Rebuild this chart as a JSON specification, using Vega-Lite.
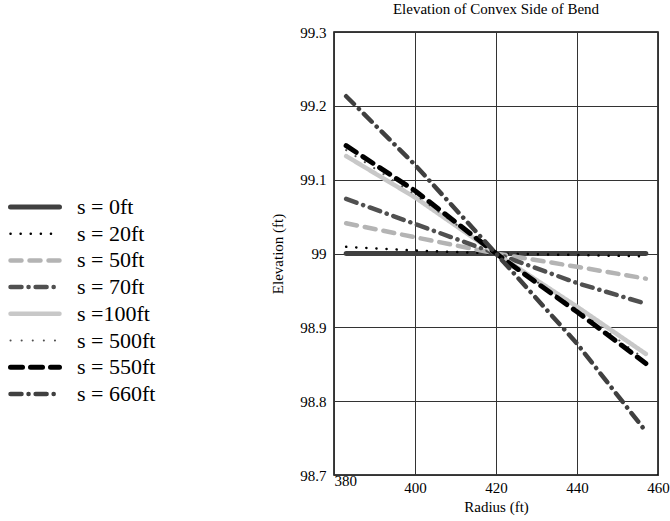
{
  "$schema": "https://vega.github.io/schema/vega-lite/v6.json",
  "autosize": {"type": "none"},
  "padding": {"left": 334, "top": 32, "right": 12, "bottom": 46},
  "width": 324,
  "height": 443,
  "background": "white",
  "title": {"text": "Elevation of Convex Side of Bend", "font": "Liberation Serif", "fontSize": 15, "fontWeight": "normal", "color": "black", "offset": 8},
  "config": {
    "view": {"stroke": "black", "strokeWidth": 1.5},
    "axis": {"labelFont": "Liberation Serif", "titleFont": "Liberation Serif", "labelFontSize": 15, "titleFontSize": 15, "titleFontWeight": "normal", "labelColor": "black", "titleColor": "black", "gridColor": "#333333", "gridOpacity": 1, "gridWidth": 1, "domain": false, "ticks": false}
  },
  "data": {"values": [
    {"r": 383, "z": 99.0, "s": "s = 0ft"}, {"r": 400, "z": 99.0, "s": "s = 0ft"}, {"r": 420, "z": 99.0, "s": "s = 0ft"}, {"r": 440, "z": 99.0, "s": "s = 0ft"}, {"r": 457, "z": 99.0, "s": "s = 0ft"},
    {"r": 383, "z": 99.009, "s": "s = 20ft"}, {"r": 400, "z": 99.004, "s": "s = 20ft"}, {"r": 420, "z": 99.0, "s": "s = 20ft"}, {"r": 440, "z": 98.998, "s": "s = 20ft"}, {"r": 457, "z": 98.996, "s": "s = 20ft"},
    {"r": 383, "z": 99.041, "s": "s = 50ft"}, {"r": 400, "z": 99.022, "s": "s = 50ft"}, {"r": 420, "z": 99.0, "s": "s = 50ft"}, {"r": 440, "z": 98.982, "s": "s = 50ft"}, {"r": 457, "z": 98.966, "s": "s = 50ft"},
    {"r": 383, "z": 99.074, "s": "s = 70ft"}, {"r": 400, "z": 99.04, "s": "s = 70ft"}, {"r": 420, "z": 99.0, "s": "s = 70ft"}, {"r": 440, "z": 98.96, "s": "s = 70ft"}, {"r": 457, "z": 98.932, "s": "s = 70ft"},
    {"r": 383, "z": 99.132, "s": "s =100ft"}, {"r": 400, "z": 99.076, "s": "s =100ft"}, {"r": 420, "z": 99.0, "s": "s =100ft"}, {"r": 440, "z": 98.928, "s": "s =100ft"}, {"r": 457, "z": 98.864, "s": "s =100ft"},
    {"r": 383, "z": 99.14, "s": "s = 500ft"}, {"r": 400, "z": 99.08, "s": "s = 500ft"}, {"r": 420, "z": 99.0, "s": "s = 500ft"}, {"r": 440, "z": 98.924, "s": "s = 500ft"}, {"r": 457, "z": 98.856, "s": "s = 500ft"},
    {"r": 383, "z": 99.146, "s": "s = 550ft"}, {"r": 400, "z": 99.085, "s": "s = 550ft"}, {"r": 420, "z": 99.0, "s": "s = 550ft"}, {"r": 440, "z": 98.921, "s": "s = 550ft"}, {"r": 457, "z": 98.851, "s": "s = 550ft"},
    {"r": 383, "z": 99.213, "s": "s = 660ft"}, {"r": 400, "z": 99.12, "s": "s = 660ft"}, {"r": 420, "z": 99.0, "s": "s = 660ft"}, {"r": 440, "z": 98.878, "s": "s = 660ft"}, {"r": 457, "z": 98.759, "s": "s = 660ft"}
  ]},
  "mark": {"type": "line", "strokeCap": "round", "strokeJoin": "round"},
  "encoding": {
    "x": {"field": "r", "type": "quantitative", "title": "Radius (ft)", "scale": {"domain": [380, 460], "nice": false, "zero": false}, "axis": {"values": [380, 400, 420, 440, 460], "labelFont": "Liberation Serif", "labelPadding": 5, "titlePadding": 4, "labelAlign": {"expr": "datum.value < 390 ? 'left' : 'center'"}, "labelBaseline": {"expr": "datum.value < 390 ? 'middle' : 'top'"}}},
    "y": {"field": "z", "type": "quantitative", "title": "Elevation (ft)", "scale": {"domain": [98.7, 99.3], "nice": false, "zero": false}, "axis": {"values": [98.7, 98.8, 98.9, 99.0, 99.1, 99.2, 99.3], "format": "~g", "labelFont": "Liberation Serif", "labelPadding": 8, "titlePadding": 14}},
    "color": {"field": "s", "type": "nominal", "scale": {"domain": ["s = 0ft", "s = 20ft", "s = 50ft", "s = 70ft", "s =100ft", "s = 500ft", "s = 550ft", "s = 660ft"], "range": ["#404040", "#000000", "#b4b4b4", "#505050", "#c8c8c8", "#505050", "#000000", "#404040"]},
      "legend": {"title": null, "orient": "none", "legendX": -326, "legendY": 164, "symbolType": "M-4,0L4,0", "symbolSize": 150, "labelFont": "Liberation Serif", "labelFontSize": 22, "labelColor": "black", "rowPadding": 4.7, "symbolOffset": 16, "labelOffset": 31, "encode": {"symbols": {"update": {"strokeCap": {"value": "round"}, "opacity": {"value": 1}}}}}},
    "strokeDash": {"field": "s", "type": "nominal", "scale": {"domain": ["s = 0ft", "s = 20ft", "s = 50ft", "s = 70ft", "s =100ft", "s = 500ft", "s = 550ft", "s = 660ft"], "range": [[1, 0], [0.1, 10], [11, 8], [11, 7, 0.1, 7], [1, 0], [0.1, 11], [12, 8], [11, 7, 0.1, 7]]}},
    "strokeWidth": {"field": "s", "type": "nominal", "scale": {"type": "ordinal", "domain": ["s = 0ft", "s = 20ft", "s = 50ft", "s = 70ft", "s =100ft", "s = 500ft", "s = 550ft", "s = 660ft"], "range": [5, 2.5, 4.5, 4.5, 4.5, 2, 5, 4.5]}}
  }
}
